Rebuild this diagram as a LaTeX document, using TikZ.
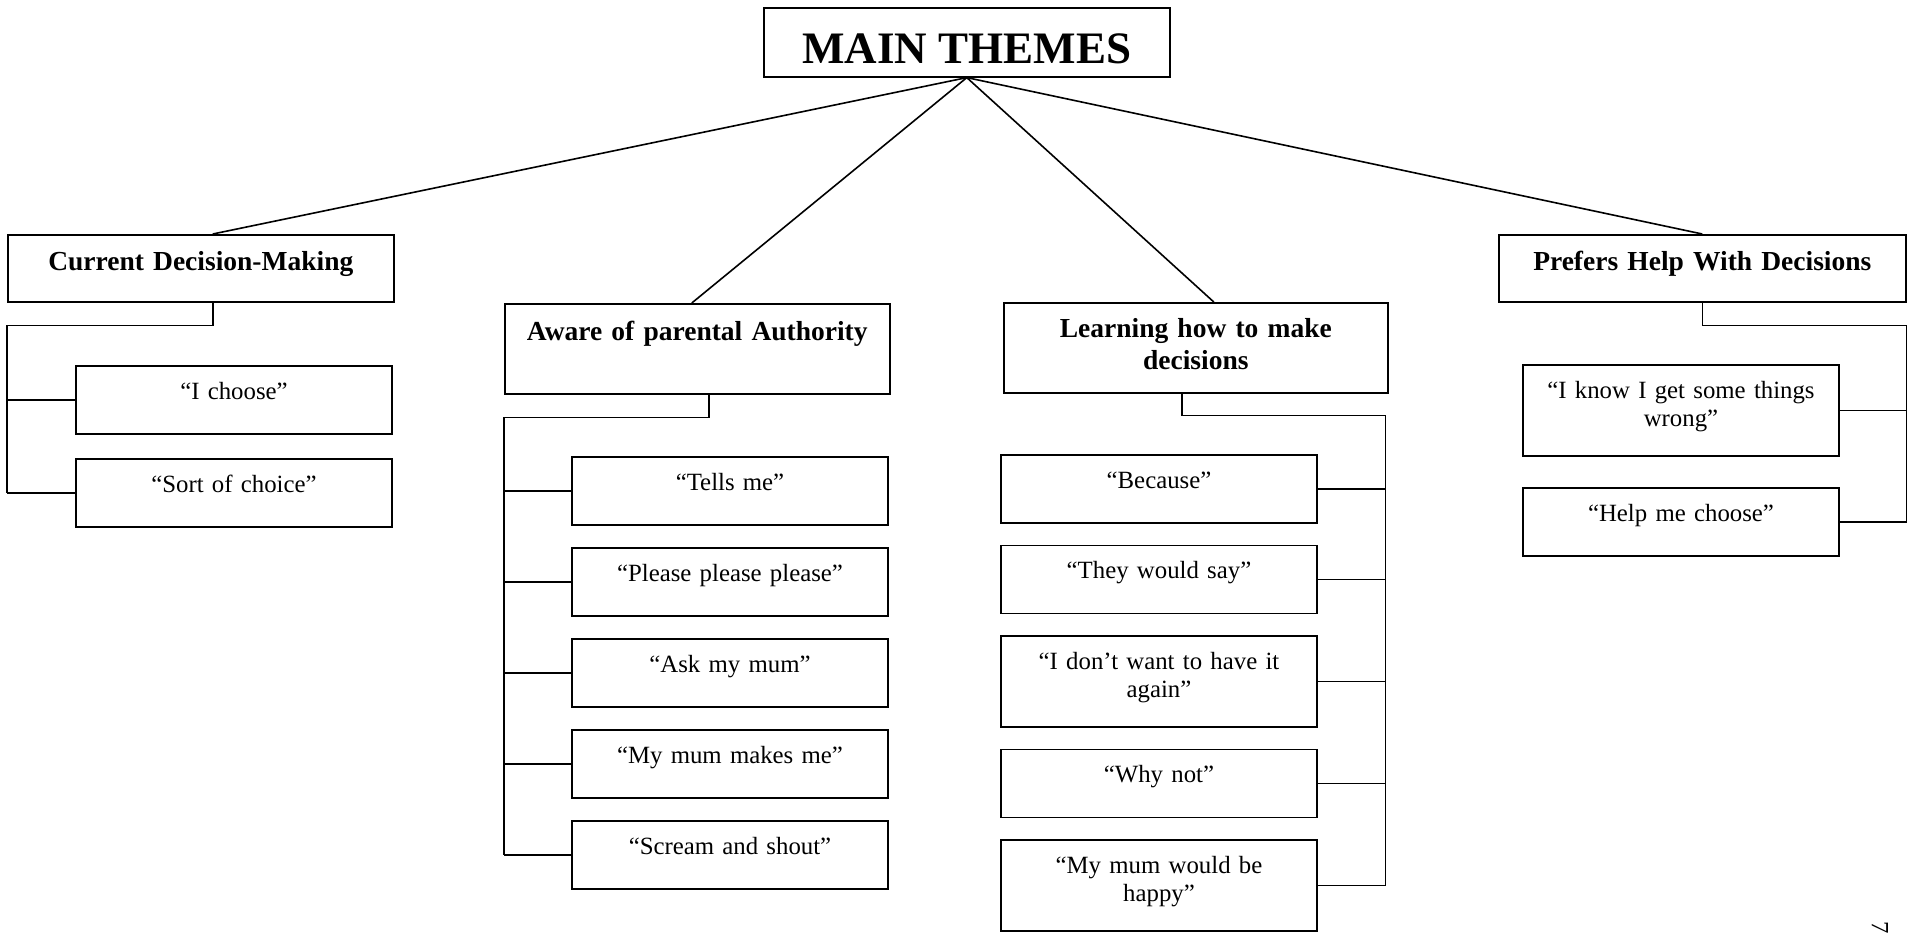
\documentclass[tikz,border=0pt]{standalone}
\usepackage{fontspec}
\setmainfont{Liberation Serif}
\usetikzlibrary{positioning}
\newcommand\quotefont{\fontsize{24.8}{28.5}\selectfont}
\newcommand\themefont{\fontsize{27.5}{31.5}\selectfont\bfseries}
\newcommand\maintitlefont{\fontsize{45}{50}\selectfont\bfseries}
\tikzset{
  maintitle/.style={rectangle,draw,line width=1.6pt,align=center,font=\maintitlefont,minimum width=406pt,inner ysep=0pt,text height=56pt,text depth=13pt},
  theme/.style={rectangle,draw,line width=1.6pt,align=center,font=\themefont,inner xsep=4pt,inner ysep=0pt,text height=36pt,text depth=31pt},
  quote/.style={rectangle,draw,line width=1.6pt,align=center,font=\quotefont,inner xsep=4pt,inner ysep=0pt,outer sep=0pt,text width=308pt,text height=33pt,text depth=35pt},
  tall/.style={text depth=58pt},
  link/.style={line width=1.6pt}
}

\begin{document}
\begin{tikzpicture}[x=1pt,y=-1pt,node distance=23pt]
\useasboundingbox (0,0) rectangle (1912,932);

\node[maintitle, anchor=north west] (title) at (763,7) {MAIN THEMES};

% themes
\node[theme, text width=378pt, anchor=north west] (cdm) at (7,234) {Current Decision-Making};
\node[theme, text width=377pt, text height=37pt, text depth=53pt, anchor=north west] (aware) at (504,303) {Aware of parental Authority};
\node[theme, text width=376pt, text height=35pt, text depth=55pt, anchor=north west] (learn) at (1003,302) {Learning how to make\\decisions};
\node[theme, text width=399pt, anchor=north west] (help) at (1498,234) {Prefers Help With Decisions};

% quotes
\node[quote, anchor=north west] (cdm1) at (76,366) {“I choose”};
\node[quote, below=25pt of cdm1] (cdm2) {“Sort of choice”};

\node[quote, anchor=north west] (aware1) at (572,457) {“Tells me”};
\node[quote, below=23pt of aware1] (aware2) {“Please please please”};
\node[quote, below=23pt of aware2] (aware3) {“Ask my mum”};
\node[quote, below=23pt of aware3] (aware4) {“My mum makes me”};
\node[quote, below=23pt of aware4] (aware5) {“Scream and shout”};

\node[quote, anchor=north west] (learn1) at (1001,455) {“Because”};
\node[quote, below=22.5pt of learn1] (learn2) {“They would say”};
\node[quote, tall, below=22.5pt of learn2] (learn3) {“I don’t want to have it\\again”};
\node[quote, below=22.5pt of learn3] (learn4) {“Why not”};
\node[quote, tall, below=22.5pt of learn4] (learn5) {“My mum would be\\happy”};

\node[quote, tall, anchor=north west] (help1) at (1523,365) {“I know I get some things\\wrong”};
\node[quote, below=32pt of help1] (help2) {“Help me choose”};

\node[font=\quotefont, rotate=-90, inner sep=0pt] (pagenum) at (1880,928) {7};

% links from the title
\draw[link] (title.south) -- ([xshift=12pt]cdm.north);
\draw[link] (title.south) -- ([xshift=-5.5pt]aware.north);
\draw[link] (title.south) -- ([xshift=18pt]learn.north);
\draw[link] (title.south) -- (help.north);

% brackets
\draw[link] ([xshift=12pt]cdm.south) |- ([yshift=-23pt]cdm.south west) -- (cdm.west |- cdm2.west);
\foreach \k in {1,2} \draw[link] (cdm.west |- cdm\k.west) -- (cdm\k.west);

\draw[link] ([xshift=11.5pt]aware.south) |- ([yshift=-23pt]aware.south west) -- (aware.west |- aware5.west);
\foreach \k in {1,...,5} \draw[link] (aware.west |- aware\k.west) -- (aware\k.west);

\coordinate (lspine) at ([xshift=-3pt]learn.south east);
\draw[link] ([xshift=-14pt]learn.south) |- ([yshift=-22pt]lspine) -- (lspine |- learn5.east);
\foreach \k in {1,...,5} \draw[link] (lspine |- learn\k.east) -- (learn\k.east);

\draw[link] (help.south) |- ([yshift=-23pt]help.south east) -- (help.east |- help2.east);
\foreach \k in {1,2} \draw[link] (help.east |- help\k.east) -- (help\k.east);
\end{tikzpicture}
\end{document}
